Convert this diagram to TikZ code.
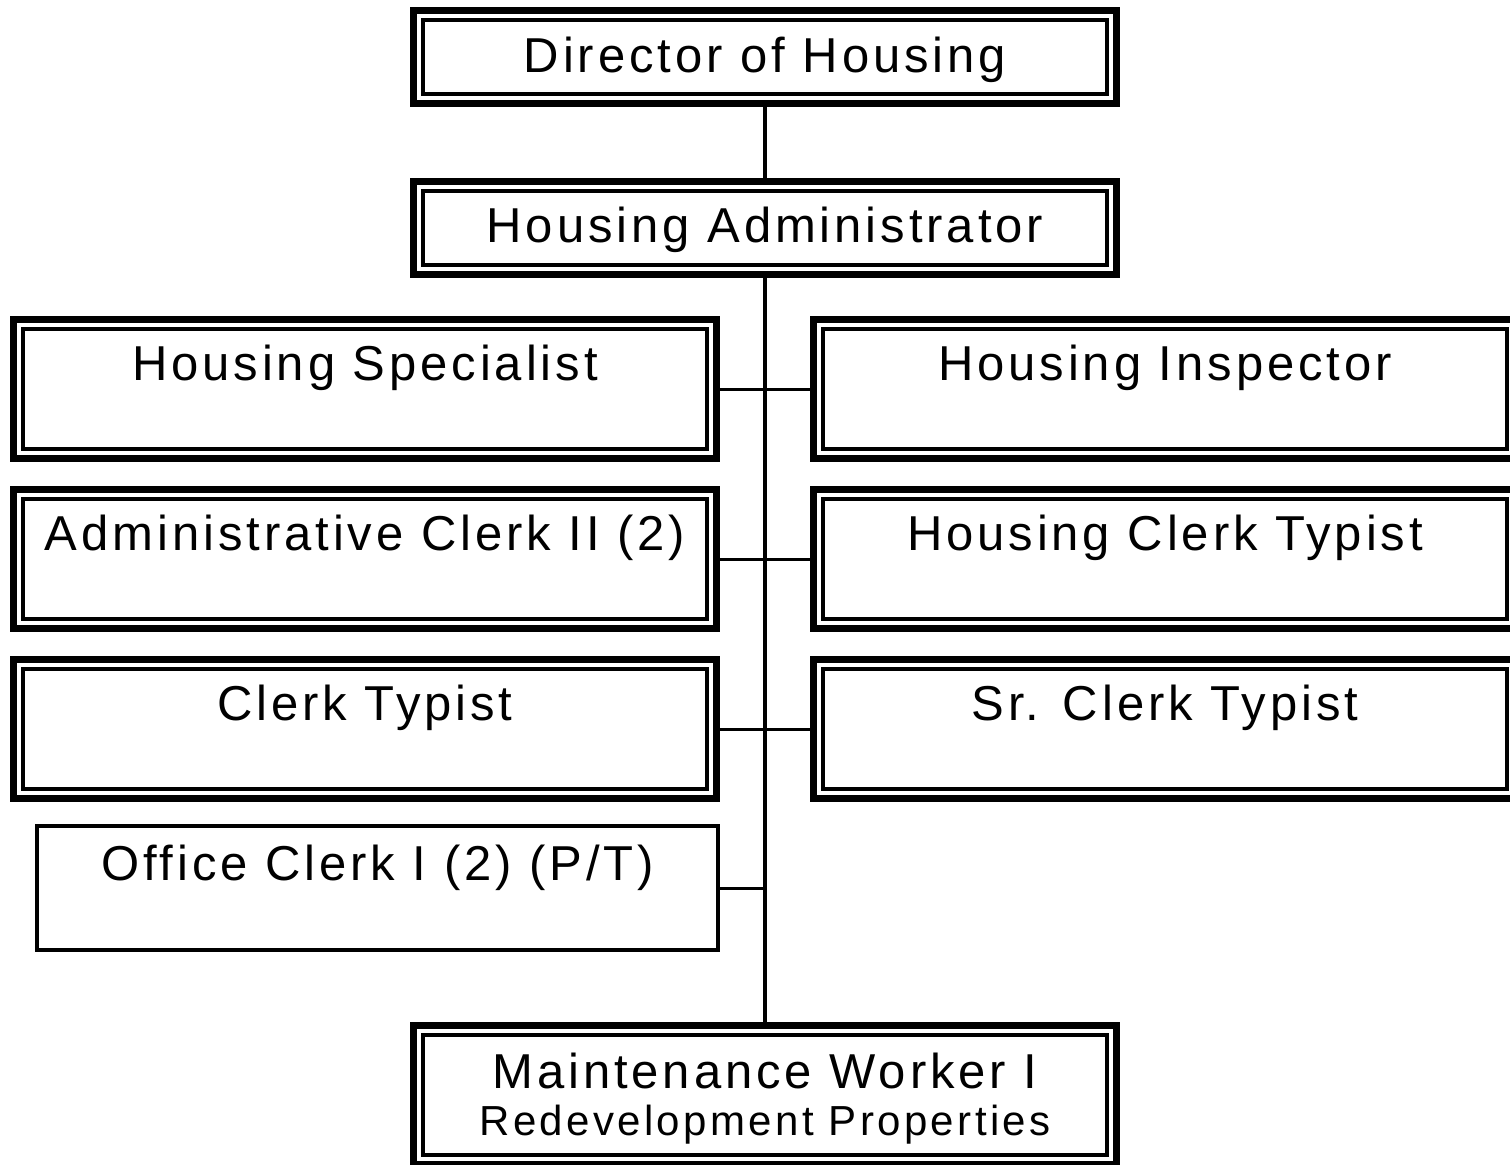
\documentclass[tikz,border=0pt]{standalone}
\usepackage{fontspec}
\setmainfont{Liberation Sans}[LetterSpace=8]
\usetikzlibrary{positioning}

\begin{document}
\begin{tikzpicture}[
    x=0.5pt, y=-0.5pt,
    post/.style={rectangle, draw, line width=3.5pt, inner sep=0pt,
        minimum width=351.5pt, text height=17.5pt,
        font=\fontsize{24.5}{29}\selectfont},
    headpost/.style={post, minimum height=46.5pt, text depth=2.5pt},
    rowpost/.style={post, minimum height=69.5pt, text depth=26pt},
    thinpost/.style={rectangle, draw, line width=2pt, inner sep=0pt,
        minimum width=340.5pt, minimum height=62pt,
        text height=17.5pt, text depth=25.5pt,
        font=\fontsize{24.5}{29}\selectfont},
    trunk/.style={line width=2pt},
    branch/.style={line width=1.5pt},
]

\clip (0,0) rectangle (1510,1164);

% ── Top of the chart ──
\node[headpost] (director) at (765,57)    {Director of Housing};
\node[headpost] (admin)    at (765,227.5) {Housing Administrator};

% ── Staff rows ──
\node[rowpost] (spec)    at (365,389)  {Housing Specialist};
\node[rowpost] (insp)    at (1165,389) {Housing Inspector};
\node[rowpost] (adclerk) at (365,559)  {Administrative Clerk II (2)};
\node[rowpost] (hclerk)  at (1165,559) {Housing Clerk Typist};
\node[rowpost] (clerk)   at (365,729)  {Clerk Typist};
\node[rowpost] (srclerk) at (1165,729) {Sr. Clerk Typist};

\node[thinpost] (office) at (377.5,888) {Office Clerk I (2) (P/T)};

% ── Bottom ──
\node[post, minimum height=69.5pt, text height=45pt, text depth=5pt, align=center]
    (maint) at (765,1095)
    {Maintenance Worker I\\[-5.5pt]{\fontsize{21}{23.5}\selectfont Redevelopment Properties}};

% ── Inner frame lines ──
\foreach \n in {director, admin, spec, insp, adclerk, hclerk, clerk, srclerk, maint}
    \draw[line width=2pt] ([shift={(6.5pt,-6.5pt)}]\n.north west)
        rectangle ([shift={(-6.5pt,6.5pt)}]\n.south east);

% ── Connectors ──
\draw[trunk] (director.south) -- (admin.north);
\draw[trunk] (admin.south) -- (maint.north);
\draw[branch] (spec.east) -- (insp.west);
\draw[branch] (adclerk.east) -- (hclerk.west);
\draw[branch] (clerk.east) -- (srclerk.west);
\draw[branch] (office.east) -- (office.east -| admin.south);

\end{tikzpicture}
\end{document}
